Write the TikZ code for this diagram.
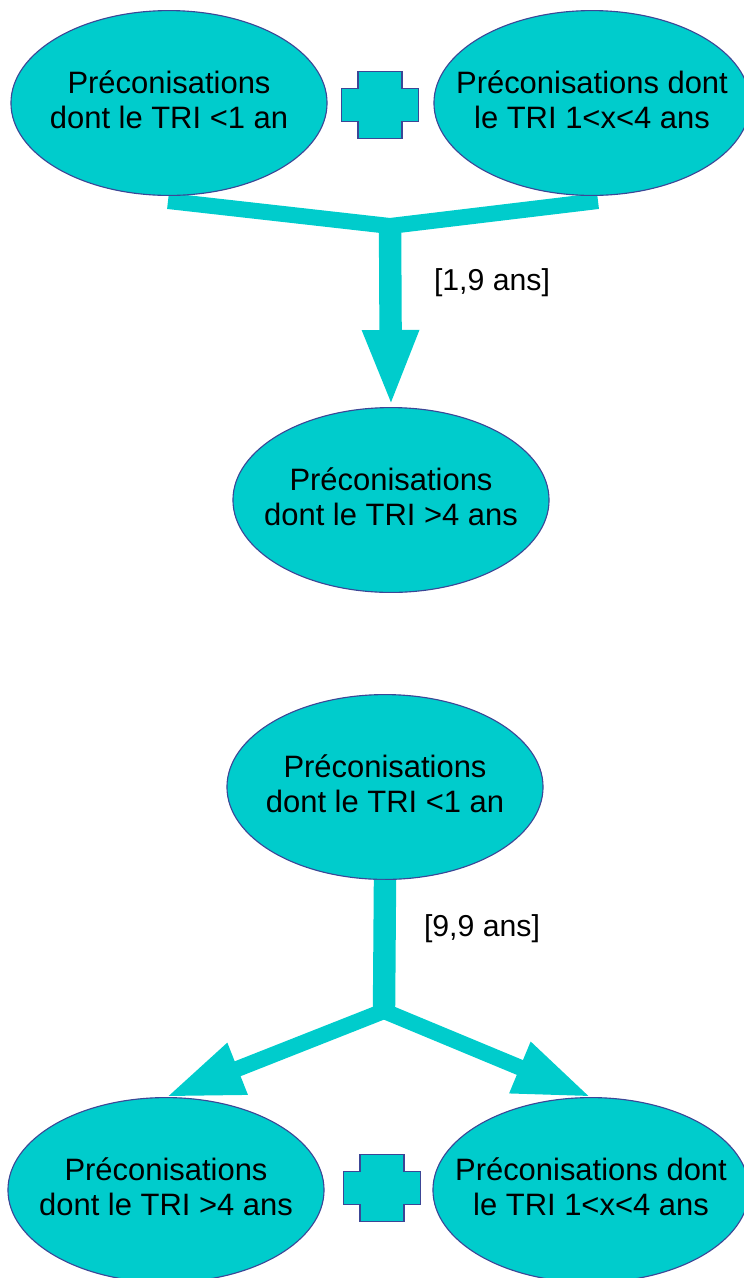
\documentclass[tikz,border=0pt]{standalone}
\usepackage{fontspec}
\setmainfont{Liberation Sans}
\usepackage{tikz}
\usetikzlibrary{arrows.meta,shapes.geometric}
\definecolor{recofill}{RGB}{0,204,204}
\definecolor{recoline}{RGB}{60,70,150}
\tikzset{
	reco/.style={ellipse, draw=recoline, fill=recofill, line width=0.8pt, inner sep=0pt, minimum width=7.9cm, minimum height=4.62cm},
	recotext/.style={font=\fontsize{22}{25}\selectfont, align=center, text=black, yshift=2.2pt},
	branch/.style={draw=recofill, line width=0.4cm, line join=miter},
	stem/.style={draw=recofill, line width=0.56cm},
	bigtip/.style={-{Triangle[width=1.275cm,length=1.925cm]}},
	plusshape/.style={draw=recoline, fill=recofill, line width=0.8pt},
	dureelabel/.style={font=\fontsize{21.5}{25}\selectfont, text=black}
}
\def\plusmark(#1,#2){\draw[plusshape, shift={(#1,#2)}] (-22,-33.5) -- (22,-33.5) -- (22,-16.5) -- (38.5,-16.5) -- (38.5,16.5) -- (22,16.5) -- (22,33.5) -- (-22,33.5) -- (-22,16.5) -- (-38.5,16.5) -- (-38.5,-16.5) -- (-22,-16.5) -- cycle;}

\begin{document}
\begin{tikzpicture}[x=0.025cm, y=-0.025cm]
		%%%%% START %%%%%
		\useasboundingbox (0,0) rectangle (744,1278);
		
		% first case
		\coordinate (junctop) at (390,226);
		\draw[branch] (168,201) -- (junctop) -- (598,201);
		\node[reco, label={[recotext]center:Préconisations\\dont le TRI <1 an}] (lowtop) at (169,103) {};
		\node[reco, label={[recotext]center:Préconisations dont\\le TRI 1<x<4 ans}] (midtop) at (592,103) {};
		\plusmark(380,105)
		\node[reco, label={[recotext]center:Préconisations\\dont le TRI >4 ans}] (hightop) at (391,500) {};
		\draw[stem, bigtip] ([yshift=4pt]junctop) -- (hightop.north);
		\node[dureelabel] (dureetop) at (492,283) {[1,9 ans]};
		
		% second case
		\node[reco, label={[recotext]center:Préconisations\\dont le TRI <1 an}] (lowbot) at (385,787) {};
		\coordinate (juncbot) at (384,1011);
		\draw[stem] (lowbot.south) -- (juncbot);
		\node[dureelabel] (dureebot) at (482,929) {[9,9 ans]};
		\node[reco, label={[recotext]center:Préconisations\\dont le TRI >4 ans}] (highbot) at (166,1190) {};
		\node[reco, label={[recotext]center:Préconisations dont\\le TRI 1<x<4 ans}] (midbot) at (591,1190) {};
		\draw[branch, bigtip] (juncbot) -- (highbot.north);
		\draw[branch, bigtip] (juncbot) -- (midbot.north);
		\plusmark(382,1188)
		
		%%%%% END %%%%%
\end{tikzpicture}
\end{document}
